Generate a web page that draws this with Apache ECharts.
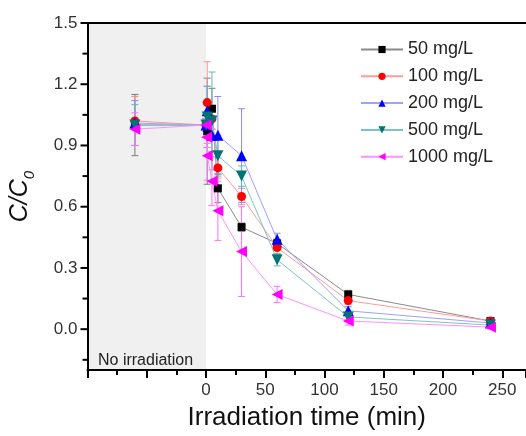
<!DOCTYPE html>
<html>
<head>
<meta charset="utf-8">
<script src="https://cdn.jsdelivr.net/npm/echarts@6/dist/echarts.min.js"></script>
<style>html,body{margin:0;padding:0;background:#fff}#c{width:526px;height:436px}</style>
</head>
<body>
<div id="c"></div>
<script>
// ---- data ----
const seriesNames = ['50 mg/L', '100 mg/L', '200 mg/L', '500 mg/L', '1000 mg/L'];
const times = [-60, 0, 1, 5, 10, 30, 60, 120, 240];
const timesMag = [-60, 0, 0.5, 1, 5, 10, 30, 60, 120, 240];
const c50 = [1.00, 1.00, 0.97, 1.08, 0.69, 0.50, 0.42, 0.17, 0.04];
const e50 = [0.15, 0.03, 0.26, 0.10, 0.07, 0.02, 0.02, 0.02, 0.01];
const c100 = [1.02, 1.00, 1.11, 1.03, 0.79, 0.65, 0.40, 0.14, 0.04];
const e100 = [0.12, 0.03, 0.20, 0.05, 0.05, 0.04, 0.03, 0.02, 0.01];
const c200 = [1.01, 1.00, 1.07, 0.95, 0.95, 0.85, 0.44, 0.09, 0.03];
const e200 = [0.11, 0.03, 0.12, 0.08, 0.19, 0.23, 0.03, 0.02, 0.01];
const c500 = [1.00, 1.00, 1.04, 1.02, 0.85, 0.75, 0.34, 0.06, 0.02];
const e500 = [0.10, 0.03, 0.15, 0.24, 0.10, 0.05, 0.03, 0.02, 0.01];
const c1000 = [0.98, 1.00, 0.94, 0.85, 0.725, 0.58, 0.38, 0.17, 0.04, 0.01];
const e1000 = [0.08, 0.03, 0.05, 0.12, 0.12, 0.145, 0.22, 0.04, 0.02, 0.01];
const yLabelTicks = [0, 0.3, 0.6, 0.9, 1.2, 1.5];
const yMinorTicks = [-0.15, 0.15, 0.45, 0.75, 1.05, 1.35];
const darkLabel = 'No irradiation';

// ---- styling ----
const FONT = 'Liberation Sans, Arial, sans-serif';
const X_MIN = -100, X_MAX = 270, Y_MIN = -0.2, Y_MAX = 1.5;
const styles = [
  {marker: '#000000', line: '#8a8a8a', err: '#7a7a7a', symbol: 'rect', size: 8, rot: 0},
  {marker: '#ff0000', line: '#ff9a9a', err: '#ff8a8a', symbol: 'circle', size: 9, rot: 0},
  {marker: '#0000ff', line: '#a0a0ff', err: '#8888ff', symbol: 'triangle', size: 11, rot: 0},
  {marker: '#007373', line: '#7cc4c4', err: '#66b8b8', symbol: 'triangle', size: 11, rot: 180},
  {marker: '#ff00ff', line: '#ff90ff', err: '#ff70ff', symbol: 'triangle', size: 11, rot: 90}
];
const xs = [times, times, times, times, timesMag];
const ys = [c50, c100, c200, c500, c1000];
const es = [e50, e100, e200, e500, e1000];

const series = [];
// y-axis ticks (major + minor), positioned through the axis scale
function tickSeries(values, len) {
  return {
    type: 'custom',
    silent: true,
    clip: false,
    z: 12,
    data: values.map(v => [X_MIN, v]),
    encode: {x: 0, y: 1},
    renderItem: function (params, api) {
      const p = api.coord([api.value(0), api.value(1)]);
      return {type: 'line', shape: {x1: p[0] - len - 1, y1: p[1], x2: p[0], y2: p[1]},
        style: {stroke: '#000', lineWidth: 2}};
    }
  };
}
series.push(tickSeries(yLabelTicks, 6));
series.push(tickSeries(yMinorTicks, 4));

// error bars
ys.forEach((vals, i) => {
  const st = styles[i];
  series.push({
    type: 'custom',
    name: 'err' + i,
    z: 2,
    silent: true,
    data: vals.map((v, k) => [xs[i][k], v - es[i][k], v + es[i][k]]),
    encode: {x: 0, y: [1, 2]},
    renderItem: function (params, api) {
      const x = api.value(0), lo = api.value(1), hi = api.value(2);
      const p1 = api.coord([x, hi]), p2 = api.coord([x, lo]);
      const w = 3.5;
      const s = {stroke: st.err, lineWidth: 1};
      return {type: 'group', children: [
        {type: 'line', shape: {x1: p1[0], y1: p1[1], x2: p2[0], y2: p2[1]}, style: s},
        {type: 'line', shape: {x1: p1[0] - w, y1: p1[1], x2: p1[0] + w, y2: p1[1]}, style: s},
        {type: 'line', shape: {x1: p2[0] - w, y1: p2[1], x2: p2[0] + w, y2: p2[1]}, style: s}
      ]};
    }
  });
});
// lines with markers
ys.forEach((vals, i) => {
  const st = styles[i];
  const s = {
    type: 'line',
    name: seriesNames[i],
    z: 3,
    data: vals.map((v, k) => [xs[i][k], v]),
    symbol: st.symbol,
    symbolSize: st.size,
    symbolRotate: st.rot,
    showAllSymbol: true,
    lineStyle: {color: st.line, width: 1},
    itemStyle: {color: st.marker},
    emphasis: {disabled: true},
    animation: false
  };
  if (i === 0) {
    s.markArea = {
      silent: true,
      itemStyle: {color: '#f0f0f0'},
      label: {show: false},
      data: [[{xAxis: X_MIN, yAxis: Y_MIN}, {xAxis: 0, yAxis: Y_MAX}]]
    };
  }
  series.push(s);
});

const chart = echarts.init(document.getElementById('c'), null, {renderer: 'canvas'});
chart.setOption({
  animation: false,
  backgroundColor: '#fff',
  grid: {left: 87, top: 23, width: 441.4, height: 351.5, containLabel: false},
  legend: {
    data: seriesNames,
    orient: 'vertical',
    left: 355,
    top: 35.5,
    itemWidth: 42,
    itemHeight: 9,
    itemGap: 8.8,
    textStyle: {fontSize: 18, fontFamily: FONT, color: '#222', lineHeight: 18}
  },
  graphic: [{
    type: 'text',
    left: 98,
    top: 353,
    z: 20,
    style: {text: darkLabel, fontSize: 16, fontFamily: FONT, fill: '#222'}
  }],
  xAxis: [{
    type: 'value',
    min: X_MIN, max: X_MAX, interval: 50,
    position: 'bottom',
    z: 10,
    axisLine: {show: true, onZero: false, lineStyle: {color: '#000', width: 2}},
    axisTick: {show: true, length: 8, lineStyle: {color: '#000', width: 2}},
    minorTick: {show: true, splitNumber: 2, length: 5, lineStyle: {color: '#000', width: 2}},
    splitLine: {show: false},
    axisLabel: {fontSize: 17, fontFamily: FONT, color: '#333', margin: 12,
      formatter: v => (v < 0 ? '' : String(v))},
    name: 'Irradiation time (min)',
    nameLocation: 'middle',
    nameGap: 35,
    nameTextStyle: {fontSize: 26, fontFamily: FONT, color: '#111'}
  }, {
    type: 'value',
    min: X_MIN, max: X_MAX,
    position: 'top',
    z: 10,
    axisLine: {show: true, onZero: false, lineStyle: {color: '#000', width: 2}},
    axisTick: {show: false}, axisLabel: {show: false}, splitLine: {show: false}
  }],
  yAxis: [{
    type: 'value',
    min: Y_MIN, max: Y_MAX,
    position: 'left',
    z: 10,
    axisLine: {show: true, onZero: false, lineStyle: {color: '#000', width: 2}},
    axisTick: {show: false},
    splitLine: {show: false},
    axisLabel: {fontSize: 17, fontFamily: FONT, color: '#333', margin: 10, customValues: yLabelTicks,
      formatter: v => v.toFixed(1)},
    name: '{a|C/C}{b|0}',
    nameLocation: 'middle',
    nameGap: 50,
    nameTextStyle: {
      fontFamily: FONT, color: '#111',
      rich: {
        a: {fontSize: 25, fontStyle: 'italic', fontFamily: FONT, lineHeight: 34, verticalAlign: 'middle'},
        b: {fontSize: 15, fontStyle: 'italic', fontFamily: FONT, lineHeight: 15, verticalAlign: 'bottom'}
      }
    }
  }],
  series: series
});
</script>
</body>
</html>
